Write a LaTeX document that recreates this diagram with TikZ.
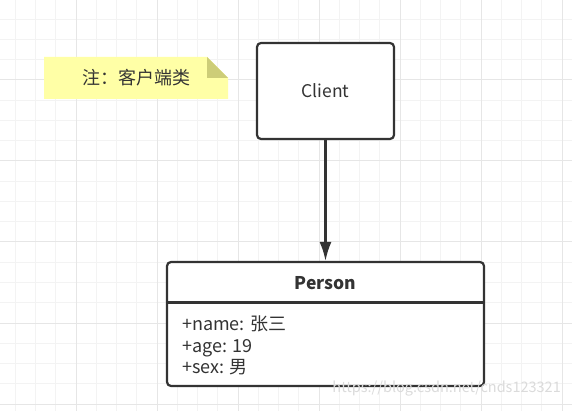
\documentclass[tikz,border=0pt]{standalone}
\usepackage{fontspec}
\setmainfont{Noto Sans CJK SC}
\usepackage{tikz}
\usetikzlibrary{arrows.meta,positioning,calc}

\definecolor{inkgray}{HTML}{333333}
\definecolor{gridminor}{HTML}{F3F3F3}
\definecolor{gridmajor}{HTML}{E6E6E6}
\definecolor{notefill}{HTML}{FFFFA6}
\definecolor{notefold}{HTML}{CDCD78}

\begin{document}
\begin{tikzpicture}[x=1pt,y=-1pt,
		every node/.style={font=\fontsize{18}{21.5}\selectfont,text=inkgray,inner sep=0pt},
		classbox/.style={draw=inkgray,line width=2.2pt,rounded corners=4pt,fill=white},
		link/.style={draw=inkgray,line width=2.2pt,-{Latex[length=19pt,width=12pt]}}]

		\useasboundingbox (0,0) rectangle (572,411);
		\fill[white] (0,0) rectangle (572,411);

		% grid
		\foreach \i in {0,...,27}
			\draw[gridminor,line width=1pt] ({15.25+20.25*\i},0) -- ++(0,411);
		\foreach \i in {0,...,19}
			\draw[gridminor,line width=1pt] (0,{19.25+20.25*\i}) -- ++(572,0);
		\foreach \x in {76,157,238,319,400,481,562}
			\draw[gridmajor,line width=1pt] (\x,0) -- ++(0,411);
		\foreach \y in {80,161,242,323,404}
			\draw[gridmajor,line width=1pt] (0,\y) -- ++(572,0);

		% note
		\fill[notefill] (44,57) -- (207,57) -- (228,78) -- (228,99) -- (44,99) -- cycle;
		\fill[notefold] (207,57) -- (228,78) -- (207,78) -- cycle;
		\node (note) at (136,78) {注：客户端类};

		% classes
		\node[classbox,minimum width=137pt,minimum height=96pt,font=\fontsize{17.5}{20}\selectfont] (client) at (325.5,91) {Client};
		\node[classbox,minimum width=317pt,minimum height=124pt] (person) at (325.5,324) {};
		\node[font=\fontsize{17.5}{20}\selectfont\bfseries] (ptitle) at (325.5,283) {Person};
		\draw[inkgray,line width=2.2pt] (person.west |- 0,302.5) -- (person.east |- 0,302.5);
		\node[anchor=north west,align=left] (attrs) at (182,316) {+name: 张三\\+age: 19\\+sex: 男};

		\draw[link] (client) -- (person);

		% watermark
		\node[font=\fontsize{14.5}{17}\selectfont,text=black!14,anchor=east] (mark) at (561,389) {https://blog.csdn.net/cnds123321};

\end{tikzpicture}
\end{document}
